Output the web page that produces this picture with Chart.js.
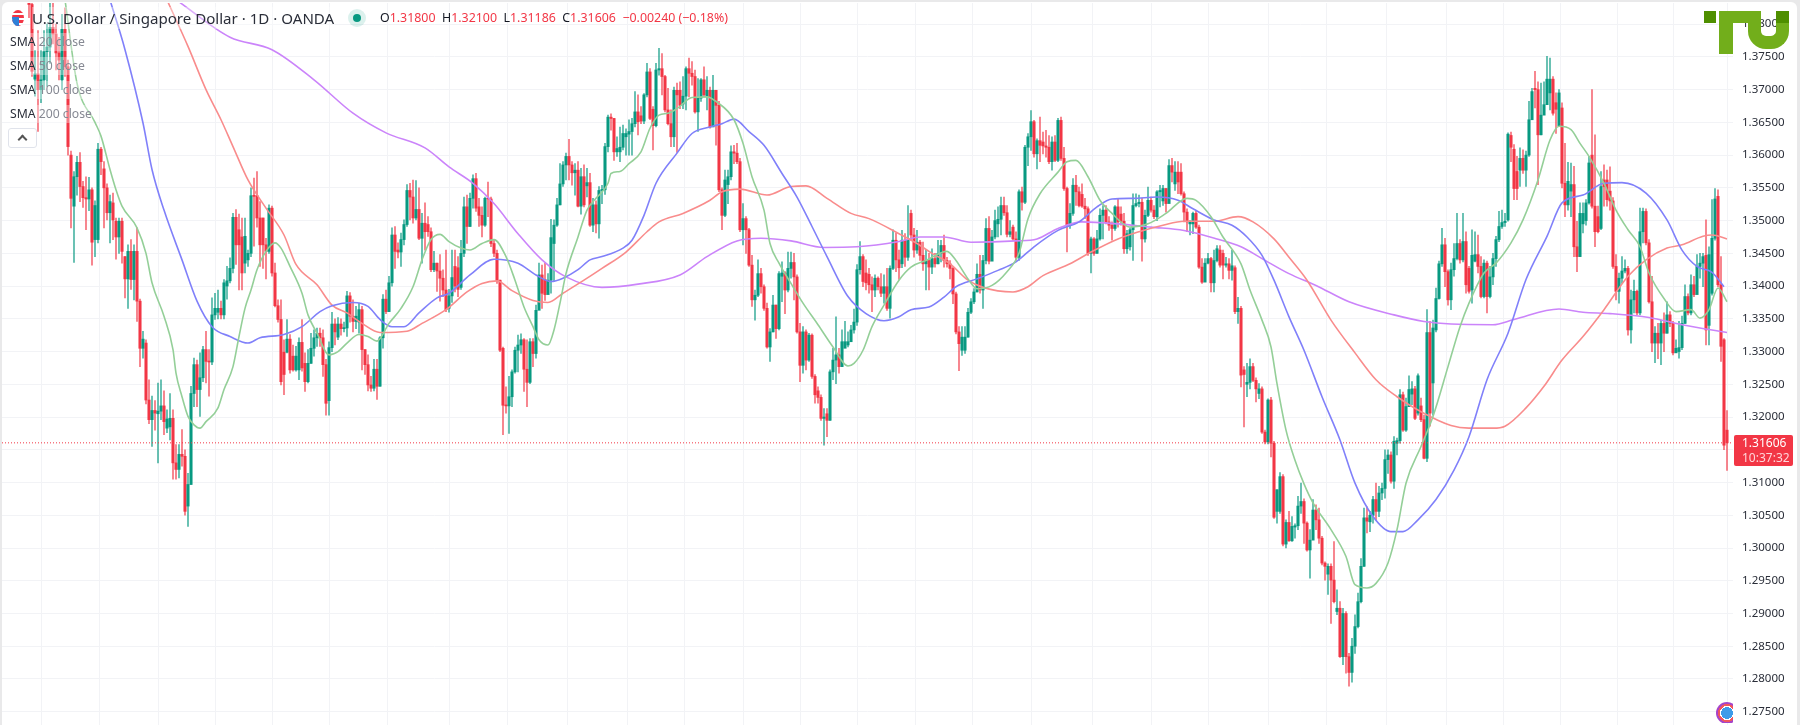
<!DOCTYPE html>
<html>
<head>
<meta charset="utf-8">
<title>USD/SGD</title>
<script src="https://cdn.jsdelivr.net/npm/chart.js@4"></script>
<style>
  html, body { margin: 0; padding: 0; width: 1800px; height: 725px; overflow: hidden; background: #e9e9ea; font-family: "Noto Sans", sans-serif; }
  #panel { position: absolute; left: 2px; top: 2px; width: 1795px; height: 723px; background: #fff; border-radius: 6px 6px 0 0; }
  canvas { position: absolute; left: 0; top: 0; }
  .abs { position: absolute; white-space: nowrap; }
  #title { left: 32px; top: 7px; font-size: 15.1px; line-height: 22px; color: #2a2e39; background: rgba(255,255,255,.35); }
  #ohlc { left: 380px; top: 9px; font-size: 12.4px; line-height: 18px; color: #f23645; }
  #ohlc b { font-weight: 400; color: #131722; }
  .sma { left: 10px; font-size: 12.2px; line-height: 18px; color: #868993; background: rgba(255,255,255,.35); }
  .sma b { font-weight: 400; color: #2a2e39; }
  #flag { left: 12px; top: 10px; width: 12px; height: 16px; border-radius: 50%; overflow: hidden; background: repeating-linear-gradient(#f23645 0 3px, #fff 3px 5px); }
  #flag i { position: absolute; left: 0; top: 7px; width: 7px; height: 9px; background: #2f7fd8; }
  #dotHalo { left: 348px; top: 9px; width: 18px; height: 18px; border-radius: 50%; background: rgba(8,153,129,.14); }
  #dot { left: 353px; top: 14px; width: 8px; height: 8px; border-radius: 50%; background: #089981; }
  #fold { left: 8px; top: 128px; width: 27px; height: 18px; border: 1px solid #e0e3eb; border-radius: 3px; background: #fff; }
  #fold i { position: absolute; left: 10px; top: 7px; width: 5px; height: 5px; border-left: 2px solid #555; border-top: 2px solid #555; transform: rotate(45deg); }
  #tag { left: 1734px; top: 435px; width: 59px; height: 31px; background: #f23645; border-radius: 2px; }
  #tagPrice { left: 1742px; top: 435px; font-size: 12px; line-height: 16px; color: #fff; }
  #tagTime { left: 1742px; top: 450px; font-size: 12px; line-height: 16px; color: #ffd5d9; }
  .tu { position: absolute; background: #72ae1b; }
  #tuU { position: absolute; left: 1748px; top: 11px; width: 15px; height: 25px; border: 13px solid #72ae1b; border-top: 0; border-radius: 0 0 18px 18px; background: transparent; }
  #badge { left: 1716px; top: 702px; width: 17px; height: 21px; overflow: hidden; }
  #badge i { position: absolute; left: 0; top: 0; width: 22px; height: 22px; border-radius: 50%; background: radial-gradient(circle, #3d9be9 0 6px, #fff 6px 7px, #f0565e 7px 9px, #a544c8 9px 11px); }
</style>
</head>
<body>
<div id="panel"></div>
<canvas id="chart" width="1800" height="725"></canvas>
<div class="abs" id="flag"><i></i></div>
<div class="abs" id="title">U.S. Dollar / Singapore Dollar · 1D · OANDA</div>
<div class="abs" id="dotHalo"></div><div class="abs" id="dot"></div>
<div class="abs" id="ohlc"><b>O</b>1.31800 <b>&nbsp;H</b>1.32100 <b>&nbsp;L</b>1.31186 <b>&nbsp;C</b>1.31606 &nbsp;−0.00240 (−0.18%)</div>
<div class="abs sma" style="top:33px"><b>SMA</b> 20 close</div>
<div class="abs sma" style="top:57px"><b>SMA</b> 50 close</div>
<div class="abs sma" style="top:81px"><b>SMA</b> 100 close</div>
<div class="abs sma" style="top:105px"><b>SMA</b> 200 close</div>
<div class="abs" id="fold"><i></i></div>
<div class="abs" id="tag"></div>
<div class="abs" id="tagPrice">1.31606</div>
<div class="abs" id="tagTime">10:37:32</div>
<div class="tu" style="left:1704px;top:11px;width:12px;height:12px;background:#4f8f00"></div>
<div class="tu" style="left:1719px;top:11px;width:29px;height:12px"></div>
<div class="tu" style="left:1719px;top:11px;width:14px;height:43px"></div>
<div id="tuU"></div>
<div class="tu" style="left:1776px;top:11px;width:13px;height:12px;background:#4f8f00"></div>
<div class="abs" id="badge"><i></i></div>
<script>
const opens = [
1.3845,1.3830,1.3716,1.3724,1.3700,1.3715,1.3758,1.3765,1.3795,1.3785,
1.3756,1.3715,1.3792,1.3735,1.3600,1.3522,1.3567,1.3589,1.3552,1.3535,
1.3533,1.3547,1.3471,1.3471,1.3609,1.3579,1.3550,1.3512,1.3527,1.3499,
1.3475,1.3499,1.3445,1.3411,1.3453,1.3410,1.3453,1.3377,1.3305,1.3313,
1.3226,1.3196,1.3210,1.3205,1.3209,1.3217,1.3183,1.3185,1.3198,1.3130,
1.3120,1.3143,1.3140,1.3064,1.3097,1.3236,1.3280,1.3242,1.3260,1.3303,
1.3285,1.3284,1.3356,1.3360,1.3366,1.3356,1.3400,1.3408,1.3427,1.3505,
1.3486,1.3475,1.3435,1.3440,1.3450,1.3538,1.3538,1.3504,1.3504,1.3463,
1.3453,1.3519,1.3420,1.3370,1.3349,1.3299,1.3299,1.3319,1.3293,1.3272,
1.3272,1.3314,1.3282,1.3254,1.3282,1.3305,1.3321,1.3328,1.3321,1.3280,
1.3225,1.3306,1.3342,1.3322,1.3342,1.3335,1.3336,1.3385,1.3354,1.3346,
1.3345,1.3364,1.3303,1.3280,1.3249,1.3244,1.3273,1.3247,1.3321,1.3380,
1.3361,1.3405,1.3478,1.3455,1.3452,1.3471,1.3494,1.3546,1.3536,1.3504,
1.3517,1.3473,1.3496,1.3494,1.3483,1.3425,1.3435,1.3423,1.3412,1.3394,
1.3366,1.3385,1.3430,1.3428,1.3398,1.3450,1.3521,1.3491,1.3534,1.3564,
1.3521,1.3508,1.3493,1.3534,1.3533,1.3465,1.3450,1.3409,1.3305,1.3218,
1.3217,1.3231,1.3269,1.3302,1.3310,1.3318,1.3273,1.3253,1.3315,1.3297,
1.3363,1.3417,1.3410,1.3387,1.3409,1.3465,1.3493,1.3524,1.3556,1.3585,
1.3598,1.3585,1.3573,1.3577,1.3522,1.3567,1.3553,1.3558,1.3493,1.3524,
1.3495,1.3546,1.3547,1.3613,1.3658,1.3656,1.3605,1.3605,1.3612,1.3628,
1.3632,1.3636,1.3648,1.3666,1.3660,1.3652,1.3692,1.3727,1.3670,1.3645,
1.3730,1.3732,1.3720,1.3669,1.3648,1.3628,1.3699,1.3699,1.3678,1.3690,
1.3732,1.3725,1.3720,1.3666,1.3687,1.3715,1.3689,1.3699,1.3643,1.3699,
1.3676,1.3547,1.3508,1.3555,1.3567,1.3605,1.3603,1.3590,1.3486,1.3503,
1.3486,1.3432,1.3379,1.3386,1.3419,1.3399,1.3366,1.3307,1.3330,1.3371,
1.3335,1.3415,1.3420,1.3394,1.3427,1.3436,1.3414,1.3330,1.3279,1.3330,
1.3287,1.3325,1.3262,1.3240,1.3230,1.3198,1.3205,1.3195,1.3269,1.3287,
1.3295,1.3277,1.3305,1.3310,1.3315,1.3333,1.3345,1.3425,1.3445,1.3420,
1.3418,1.3402,1.3394,1.3412,1.3399,1.3389,1.3399,1.3366,1.3427,1.3470,
1.3440,1.3434,1.3470,1.3444,1.3511,1.3478,1.3455,1.3467,1.3447,1.3434,
1.3439,1.3429,1.3442,1.3434,1.3450,1.3462,1.3439,1.3434,1.3427,1.3388,
1.3330,1.3302,1.3302,1.3322,1.3360,1.3376,1.3391,1.3418,1.3394,1.3439,
1.3488,1.3438,1.3475,1.3495,1.3502,1.3523,1.3512,1.3479,1.3490,1.3472,
1.3444,1.3544,1.3528,1.3612,1.3628,1.3651,1.3602,1.3622,1.3620,1.3614,
1.3612,1.3590,1.3620,1.3592,1.3653,1.3595,1.3549,1.3493,1.3511,1.3554,
1.3544,1.3540,1.3522,1.3518,1.3450,1.3472,1.3450,1.3472,1.3508,1.3516,
1.3498,1.3493,1.3488,1.3521,1.3510,1.3499,1.3457,1.3460,1.3486,1.3523,
1.3526,1.3528,1.3472,1.3508,1.3531,1.3516,1.3506,1.3544,1.3530,1.3549,
1.3526,1.3584,1.3556,1.3574,1.3574,1.3541,1.3513,1.3495,1.3495,1.3511,
1.3490,1.3429,1.3406,1.3435,1.3442,1.3405,1.3439,1.3455,1.3450,1.3432,
1.3434,1.3424,1.3428,1.3361,1.3366,1.3272,1.3250,1.3253,1.3277,1.3256,
1.3236,1.3243,1.3177,1.3162,1.3226,1.3160,1.3056,1.3056,1.3109,1.3006,
1.3039,1.3011,1.3032,1.3034,1.3064,1.3071,1.3038,1.2997,1.3012,1.3058,
1.3043,1.3015,1.2977,1.2960,1.2972,1.2951,1.2903,1.2908,1.2834,1.2900,
1.2834,1.2810,1.2850,1.2880,1.2918,1.2972,1.3046,1.3040,1.3050,1.3074,
1.3056,1.3084,1.3091,1.3135,1.3142,1.3102,1.3160,1.3164,1.3234,1.3180,
1.3216,1.3235,1.3243,1.3206,1.3217,1.3196,1.3137,1.3329,1.3252,1.3333,
1.3381,1.3434,1.3463,1.3422,1.3379,1.3425,1.3442,1.3465,1.3440,1.3468,
1.3427,1.3394,1.3438,1.3448,1.3430,1.3384,1.3435,1.3384,1.3414,1.3442,
1.3471,1.3491,1.3497,1.3501,1.3630,1.3609,1.3575,1.3577,1.3595,1.3577,
1.3600,1.3654,1.3702,1.3700,1.3631,1.3661,1.3677,1.3695,1.3716,1.3680,
1.3645,1.3672,1.3557,1.3524,1.3545,1.3555,1.3460,1.3445,1.3495,1.3500,
1.3527,1.3600,1.3522,1.3506,1.3488,1.3562,1.3562,1.3545,1.3530,1.3430,
1.3392,1.3412,1.3423,1.3427,1.3333,1.3379,1.3392,1.3359,1.3483,1.3514,
1.3466,1.3376,1.3313,1.3328,1.3313,1.3343,1.3328,1.3356,1.3343,1.3298,
1.3300,1.3306,1.3343,1.3384,1.3359,1.3402,1.3387,1.3430,1.3435,1.3447,
1.3340,1.3389,1.3473,1.3537,1.3402,1.3318,1.31800
];
const highs = [
1.3860,1.3840,1.3760,1.3790,1.3760,1.3790,1.3800,1.3838,1.3835,1.3800,
1.3780,1.3815,1.3825,1.3745,1.3606,1.3575,1.3598,1.3604,1.3560,1.3567,
1.3566,1.3550,1.3530,1.3618,1.3612,1.3590,1.3556,1.3539,1.3542,1.3504,
1.3504,1.3504,1.3445,1.3463,1.3471,1.3463,1.3489,1.3380,1.3331,1.3318,
1.3257,1.3232,1.3225,1.3252,1.3257,1.3240,1.3211,1.3236,1.3211,1.3158,
1.3158,1.3181,1.3150,1.3114,1.3247,1.3290,1.3287,1.3298,1.3308,1.3331,
1.3303,1.3382,1.3389,1.3394,1.3377,1.3410,1.3430,1.3443,1.3511,1.3517,
1.3510,1.3504,1.3504,1.3455,1.3550,1.3565,1.3575,1.3529,1.3504,1.3473,
1.3524,1.3522,1.3435,1.3379,1.3379,1.3318,1.3349,1.3326,1.3310,1.3308,
1.3321,1.3349,1.3298,1.3303,1.3328,1.3333,1.3336,1.3336,1.3333,1.3288,
1.3315,1.3360,1.3350,1.3352,1.3350,1.3345,1.3392,1.3390,1.3379,1.3369,
1.3374,1.3369,1.3303,1.3295,1.3262,1.3288,1.3288,1.3323,1.3387,1.3394,
1.3415,1.3489,1.3491,1.3466,1.3481,1.3501,1.3555,1.3557,1.3562,1.3561,
1.3550,1.3511,1.3527,1.3506,1.3489,1.3453,1.3435,1.3448,1.3425,1.3455,
1.3395,1.3455,1.3455,1.3445,1.3470,1.3536,1.3539,1.3542,1.3570,1.3572,
1.3534,1.3521,1.3536,1.3559,1.3536,1.3470,1.3455,1.3409,1.3307,1.3246,
1.3262,1.3272,1.3307,1.3325,1.3327,1.3320,1.3318,1.3320,1.3320,1.3371,
1.3435,1.3432,1.3435,1.3419,1.3502,1.3501,1.3534,1.3587,1.3590,1.3603,
1.3624,1.3590,1.3587,1.3590,1.3580,1.3585,1.3580,1.3572,1.3534,1.3530,
1.3552,1.3554,1.3618,1.3661,1.3663,1.3656,1.3628,1.3643,1.3646,1.3640,
1.3654,1.3656,1.3697,1.3692,1.3674,1.3694,1.3740,1.3732,1.3674,1.3740,
1.3763,1.3755,1.3722,1.3702,1.3669,1.3704,1.3710,1.3712,1.3720,1.3735,
1.3748,1.3743,1.3730,1.3717,1.3717,1.3735,1.3720,1.3704,1.3722,1.3692,
1.3682,1.3550,1.3577,1.3577,1.3614,1.3615,1.3618,1.3595,1.3526,1.3506,
1.3488,1.3447,1.3394,1.3440,1.3427,1.3402,1.3374,1.3335,1.3386,1.3371,
1.3422,1.3437,1.3422,1.3452,1.3452,1.3450,1.3417,1.3343,1.3338,1.3333,
1.3328,1.3327,1.3265,1.3246,1.3234,1.3213,1.3213,1.3272,1.3305,1.3353,
1.3305,1.3333,1.3346,1.3330,1.3340,1.3365,1.3433,1.3468,1.3448,1.3440,
1.3427,1.3414,1.3417,1.3414,1.3419,1.3417,1.3427,1.3431,1.3486,1.3481,
1.3455,1.3485,1.3480,1.3523,1.3516,1.3488,1.3485,1.3470,1.3467,1.3455,
1.3450,1.3457,1.3450,1.3470,1.3470,1.3478,1.3444,1.3439,1.3429,1.3391,
1.3338,1.3338,1.3338,1.3366,1.3381,1.3396,1.3434,1.3447,1.3447,1.3503,
1.3506,1.3485,1.3516,1.3521,1.3536,1.3536,1.3523,1.3500,1.3493,1.3483,
1.3547,1.3551,1.3615,1.3633,1.3668,1.3653,1.3625,1.3658,1.3635,1.3638,
1.3630,1.3628,1.3630,1.3656,1.3658,1.3612,1.3551,1.3526,1.3564,1.3569,
1.3551,1.3556,1.3534,1.3521,1.3475,1.3474,1.3485,1.3518,1.3523,1.3523,
1.3506,1.3498,1.3523,1.3534,1.3521,1.3511,1.3485,1.3488,1.3541,1.3541,
1.3539,1.3534,1.3516,1.3551,1.3536,1.3523,1.3546,1.3554,1.3554,1.3549,
1.3593,1.3595,1.3590,1.3590,1.3587,1.3544,1.3518,1.3500,1.3513,1.3514,
1.3493,1.3442,1.3442,1.3450,1.3444,1.3455,1.3462,1.3462,1.3455,1.3444,
1.3442,1.3455,1.3431,1.3383,1.3369,1.3277,1.3282,1.3289,1.3282,1.3260,
1.3251,1.3246,1.3180,1.3228,1.3230,1.3163,1.3089,1.3115,1.3112,1.3043,
1.3056,1.3048,1.3037,1.3079,1.3099,1.3075,1.3040,1.3028,1.3074,1.3066,
1.3061,1.3018,1.2979,1.2976,1.2976,1.3010,1.2936,1.2918,1.2908,1.2903,
1.2839,1.2862,1.2898,1.2931,1.2984,1.3061,1.3063,1.3056,1.3079,1.3099,
1.3094,1.3099,1.3150,1.3150,1.3147,1.3170,1.3168,1.3242,1.3238,1.3229,
1.3263,1.3254,1.3247,1.3266,1.3229,1.3203,1.3364,1.3346,1.3348,1.3397,
1.3438,1.3488,1.3473,1.3425,1.3435,1.3465,1.3511,1.3471,1.3511,1.3483,
1.3430,1.3486,1.3483,1.3478,1.3445,1.3440,1.3438,1.3430,1.3450,1.3476,
1.3514,1.3516,1.3511,1.3634,1.3635,1.3616,1.3598,1.3611,1.3608,1.3606,
1.3682,1.3702,1.3728,1.3712,1.3710,1.3712,1.3751,1.3748,1.3720,1.3695,
1.3700,1.3680,1.3618,1.3589,1.3588,1.3583,1.3499,1.3527,1.3527,1.3532,
1.3598,1.3700,1.3631,1.3522,1.3575,1.3585,1.3577,1.3582,1.3535,1.3448,
1.3420,1.3445,1.3440,1.3430,1.3394,1.3409,1.3394,1.3519,1.3519,1.3518,
1.3471,1.3415,1.3338,1.3343,1.3348,1.3359,1.3376,1.3361,1.3346,1.3318,
1.3346,1.3354,1.3402,1.3388,1.3417,1.3415,1.3448,1.3450,1.3450,1.3501,
1.3460,1.3532,1.3549,1.3547,1.3445,1.3320,1.32100
];
const lows = [
1.3810,1.3720,1.3690,1.3636,1.3680,1.3700,1.3705,1.3740,1.3770,1.3730,
1.3715,1.3700,1.3720,1.3600,1.3489,1.3436,1.3539,1.3529,1.3520,1.3486,
1.3515,1.3432,1.3445,1.3466,1.3570,1.3489,1.3501,1.3466,1.3471,1.3441,
1.3450,1.3435,1.3382,1.3366,1.3395,1.3379,1.3346,1.3277,1.3290,1.3220,
1.3190,1.3155,1.3180,1.3130,1.3196,1.3173,1.3176,1.3165,1.3105,1.3105,
1.3107,1.3125,1.3050,1.3033,1.3097,1.3216,1.3216,1.3201,1.3254,1.3252,
1.3232,1.3280,1.3349,1.3350,1.3350,1.3350,1.3380,1.3405,1.3420,1.3433,
1.3394,1.3394,1.3420,1.3430,1.3445,1.3461,1.3490,1.3430,1.3427,1.3411,
1.3450,1.3415,1.3368,1.3345,1.3249,1.3234,1.3298,1.3267,1.3270,1.3270,
1.3257,1.3270,1.3239,1.3252,1.3282,1.3293,1.3308,1.3308,1.3262,1.3203,
1.3203,1.3300,1.3310,1.3318,1.3325,1.3330,1.3323,1.3345,1.3330,1.3335,
1.3328,1.3272,1.3265,1.3240,1.3239,1.3240,1.3227,1.3247,1.3305,1.3358,
1.3361,1.3400,1.3427,1.3443,1.3430,1.3463,1.3491,1.3501,1.3496,1.3501,
1.3471,1.3435,1.3455,1.3476,1.3422,1.3422,1.3392,1.3377,1.3384,1.3361,
1.3360,1.3375,1.3391,1.3384,1.3395,1.3445,1.3465,1.3491,1.3519,1.3514,
1.3491,1.3475,1.3491,1.3506,1.3460,1.3445,1.3404,1.3300,1.3173,1.3206,
1.3175,1.3216,1.3267,1.3269,1.3297,1.3239,1.3216,1.3251,1.3277,1.3290,
1.3369,1.3366,1.3378,1.3389,1.3389,1.3407,1.3491,1.3524,1.3552,1.3562,
1.3562,1.3554,1.3539,1.3521,1.3510,1.3521,1.3536,1.3491,1.3483,1.3481,
1.3473,1.3526,1.3540,1.3605,1.3638,1.3592,1.3598,1.3590,1.3608,1.3600,
1.3600,1.3600,1.3643,1.3631,1.3648,1.3648,1.3689,1.3654,1.3608,1.3643,
1.3722,1.3692,1.3666,1.3646,1.3613,1.3613,1.3604,1.3671,1.3671,1.3669,
1.3689,1.3707,1.3664,1.3636,1.3682,1.3689,1.3669,1.3641,1.3646,1.3615,
1.3544,1.3486,1.3506,1.3526,1.3562,1.3587,1.3587,1.3483,1.3463,1.3450,
1.3430,1.3369,1.3348,1.3384,1.3389,1.3363,1.3305,1.3285,1.3330,1.3320,
1.3333,1.3376,1.3358,1.3391,1.3412,1.3379,1.3328,1.3254,1.3267,1.3272,
1.3285,1.3259,1.3221,1.3221,1.3195,1.3157,1.3170,1.3195,1.3257,1.3251,
1.3267,1.3277,1.3307,1.3307,1.3315,1.3328,1.3340,1.3418,1.3399,1.3394,
1.3389,1.3361,1.3384,1.3394,1.3384,1.3374,1.3363,1.3351,1.3425,1.3422,
1.3410,1.3428,1.3430,1.3439,1.3470,1.3444,1.3450,1.3439,1.3424,1.3394,
1.3394,1.3419,1.3429,1.3434,1.3437,1.3429,1.3429,1.3411,1.3373,1.3327,
1.3271,1.3294,1.3297,1.3322,1.3358,1.3373,1.3391,1.3389,1.3366,1.3434,
1.3434,1.3452,1.3472,1.3475,1.3478,1.3508,1.3475,1.3475,1.3470,1.3439,
1.3439,1.3516,1.3526,1.3584,1.3607,1.3597,1.3579,1.3590,1.3602,1.3597,
1.3587,1.3577,1.3590,1.3590,1.3592,1.3546,1.3452,1.3488,1.3508,1.3523,
1.3521,1.3520,1.3503,1.3447,1.3420,1.3447,1.3450,1.3470,1.3472,1.3495,
1.3485,1.3470,1.3485,1.3490,1.3493,1.3450,1.3450,1.3455,1.3439,1.3521,
1.3521,1.3438,1.3467,1.3506,1.3513,1.3503,1.3500,1.3521,1.3523,1.3513,
1.3546,1.3559,1.3546,1.3541,1.3539,1.3498,1.3483,1.3478,1.3480,1.3488,
1.3427,1.3404,1.3414,1.3434,1.3391,1.3391,1.3437,1.3429,1.3411,1.3429,
1.3411,1.3409,1.3358,1.3343,1.3246,1.3185,1.3231,1.3243,1.3254,1.3223,
1.3228,1.3175,1.3159,1.3159,1.3139,1.3045,1.3038,1.3053,1.3003,1.3000,
1.3010,1.3010,1.3015,1.3028,1.3053,1.3007,1.2995,1.2954,1.3025,1.3028,
1.3007,1.2974,1.2951,1.2929,1.2885,1.2916,1.2898,1.2833,1.2822,1.2809,
1.2789,1.2795,1.2839,1.2878,1.2916,1.2972,1.3023,1.3025,1.3038,1.3043,
1.3048,1.3074,1.3076,1.3114,1.3099,1.3091,1.3142,1.3160,1.3178,1.3178,
1.3216,1.3219,1.3196,1.3203,1.3193,1.3136,1.3132,1.3186,1.3203,1.3330,
1.3380,1.3430,1.3399,1.3371,1.3364,1.3415,1.3440,1.3435,1.3437,1.3389,
1.3389,1.3374,1.3437,1.3420,1.3382,1.3382,1.3359,1.3382,1.3402,1.3430,
1.3468,1.3488,1.3491,1.3499,1.3590,1.3532,1.3532,1.3552,1.3572,1.3552,
1.3598,1.3654,1.3672,1.3555,1.3631,1.3667,1.3679,1.3669,1.3661,1.3633,
1.3649,1.3550,1.3506,1.3516,1.3506,1.3445,1.3422,1.3445,1.3481,1.3493,
1.3525,1.3519,1.3460,1.3481,1.3486,1.3522,1.3522,1.3516,1.3427,1.3379,
1.3374,1.3404,1.3420,1.3325,1.3313,1.3359,1.3356,1.3356,1.3466,1.3463,
1.3374,1.3300,1.3283,1.3289,1.3280,1.3300,1.3328,1.3338,1.3295,1.3303,
1.3290,1.3303,1.3343,1.3356,1.3356,1.3384,1.3394,1.3412,1.3399,1.3310,
1.3310,1.3386,1.3470,1.3399,1.3285,1.3150,1.31186
];
const closes = [
1.3830,1.3728,1.3724,1.3700,1.3715,1.3758,1.3765,1.3795,1.3785,1.3756,
1.3745,1.3792,1.3735,1.3613,1.3534,1.3567,1.3589,1.3552,1.3535,1.3533,
1.3547,1.3467,1.3523,1.3609,1.3590,1.3550,1.3512,1.3529,1.3501,1.3475,
1.3499,1.3453,1.3411,1.3453,1.3410,1.3453,1.3377,1.3305,1.3319,1.3226,
1.3196,1.3210,1.3206,1.3209,1.3217,1.3193,1.3197,1.3198,1.3130,1.3120,
1.3143,1.3140,1.3056,1.3097,1.3236,1.3280,1.3242,1.3260,1.3303,1.3285,
1.3284,1.3356,1.3366,1.3366,1.3356,1.3405,1.3408,1.3427,1.3505,1.3463,
1.3463,1.3420,1.3476,1.3450,1.3538,1.3537,1.3504,1.3463,1.3463,1.3453,
1.3519,1.3420,1.3370,1.3349,1.3254,1.3265,1.3319,1.3272,1.3272,1.3293,
1.3314,1.3275,1.3254,1.3282,1.3305,1.3321,1.3328,1.3321,1.3280,1.3221,
1.3306,1.3342,1.3330,1.3342,1.3335,1.3336,1.3385,1.3354,1.3346,1.3354,
1.3364,1.3303,1.3280,1.3249,1.3244,1.3273,1.3247,1.3321,1.3380,1.3361,
1.3405,1.3478,1.3453,1.3452,1.3471,1.3494,1.3546,1.3536,1.3504,1.3517,
1.3473,1.3496,1.3483,1.3483,1.3425,1.3435,1.3423,1.3412,1.3394,1.3364,
1.3385,1.3413,1.3400,1.3395,1.3450,1.3521,1.3491,1.3534,1.3564,1.3519,
1.3508,1.3493,1.3534,1.3533,1.3465,1.3450,1.3409,1.3302,1.3218,1.3217,
1.3231,1.3269,1.3302,1.3310,1.3318,1.3273,1.3253,1.3315,1.3297,1.3363,
1.3417,1.3389,1.3387,1.3409,1.3474,1.3493,1.3524,1.3556,1.3585,1.3598,
1.3585,1.3573,1.3577,1.3522,1.3567,1.3524,1.3558,1.3493,1.3524,1.3495,
1.3546,1.3547,1.3613,1.3658,1.3656,1.3605,1.3610,1.3612,1.3633,1.3633,
1.3636,1.3648,1.3666,1.3651,1.3652,1.3692,1.3727,1.3656,1.3645,1.3730,
1.3732,1.3720,1.3669,1.3648,1.3628,1.3699,1.3692,1.3676,1.3690,1.3732,
1.3725,1.3720,1.3666,1.3687,1.3715,1.3692,1.3699,1.3643,1.3699,1.3676,
1.3547,1.3508,1.3562,1.3567,1.3605,1.3603,1.3590,1.3486,1.3503,1.3486,
1.3432,1.3379,1.3386,1.3419,1.3399,1.3366,1.3307,1.3330,1.3371,1.3335,
1.3419,1.3420,1.3394,1.3427,1.3436,1.3414,1.3330,1.3279,1.3330,1.3287,
1.3325,1.3262,1.3234,1.3230,1.3198,1.3200,1.3195,1.3269,1.3287,1.3295,
1.3277,1.3315,1.3315,1.3315,1.3333,1.3345,1.3425,1.3445,1.3407,1.3405,
1.3402,1.3394,1.3412,1.3399,1.3389,1.3399,1.3366,1.3427,1.3470,1.3440,
1.3428,1.3470,1.3444,1.3470,1.3478,1.3455,1.3467,1.3447,1.3434,1.3439,
1.3429,1.3442,1.3434,1.3450,1.3462,1.3439,1.3434,1.3427,1.3388,1.3330,
1.3312,1.3322,1.3322,1.3360,1.3376,1.3391,1.3418,1.3394,1.3439,1.3488,
1.3438,1.3475,1.3500,1.3502,1.3523,1.3512,1.3479,1.3483,1.3472,1.3444,
1.3544,1.3528,1.3612,1.3628,1.3651,1.3602,1.3622,1.3615,1.3614,1.3612,
1.3590,1.3620,1.3592,1.3653,1.3595,1.3549,1.3493,1.3511,1.3554,1.3544,
1.3523,1.3522,1.3518,1.3450,1.3472,1.3450,1.3472,1.3508,1.3516,1.3498,
1.3493,1.3488,1.3521,1.3498,1.3499,1.3457,1.3480,1.3486,1.3523,1.3526,
1.3528,1.3472,1.3508,1.3531,1.3516,1.3506,1.3544,1.3546,1.3549,1.3526,
1.3584,1.3574,1.3574,1.3559,1.3541,1.3513,1.3498,1.3498,1.3511,1.3490,
1.3429,1.3406,1.3435,1.3442,1.3405,1.3439,1.3457,1.3432,1.3432,1.3434,
1.3424,1.3431,1.3361,1.3366,1.3264,1.3265,1.3253,1.3277,1.3256,1.3243,
1.3243,1.3177,1.3162,1.3226,1.3160,1.3047,1.3089,1.3109,1.3006,1.3039,
1.3011,1.3033,1.3034,1.3064,1.3071,1.3038,1.2997,1.3012,1.3058,1.3043,
1.3015,1.2977,1.2972,1.2972,1.2951,1.2918,1.2908,1.2834,1.2900,1.2834,
1.2810,1.2850,1.2880,1.2918,1.2972,1.3046,1.3041,1.3050,1.3074,1.3056,
1.3084,1.3091,1.3135,1.3142,1.3102,1.3163,1.3164,1.3234,1.3180,1.3216,
1.3242,1.3243,1.3198,1.3263,1.3196,1.3137,1.3329,1.3206,1.3336,1.3381,
1.3434,1.3463,1.3422,1.3379,1.3425,1.3442,1.3465,1.3440,1.3468,1.3402,
1.3392,1.3447,1.3448,1.3430,1.3384,1.3435,1.3384,1.3414,1.3442,1.3471,
1.3491,1.3497,1.3499,1.3632,1.3612,1.3549,1.3549,1.3595,1.3577,1.3600,
1.3654,1.3697,1.3700,1.3631,1.3661,1.3677,1.3716,1.3716,1.3664,1.3670,
1.3695,1.3557,1.3524,1.3560,1.3555,1.3460,1.3445,1.3511,1.3511,1.3527,
1.3588,1.3522,1.3483,1.3483,1.3552,1.3552,1.3532,1.3530,1.3430,1.3392,
1.3412,1.3423,1.3427,1.3333,1.3379,1.3392,1.3359,1.3483,1.3514,1.3466,
1.3376,1.3313,1.3328,1.3313,1.3343,1.3328,1.3356,1.3343,1.3298,1.3305,
1.3306,1.3343,1.3384,1.3359,1.3402,1.3387,1.3430,1.3435,1.3445,1.3333,
1.3448,1.3473,1.3533,1.3402,1.3308,1.3157,1.31606
];

const priceTicks = [1.275,1.28,1.285,1.29,1.295,1.30,1.305,1.31,1.315,1.32,1.325,1.33,1.335,1.34,1.345,1.35,1.355,1.36,1.365,1.37,1.375,1.38];
const monthTicks = [-6,14,33,53,71,91,109,130,150,169,190,209,228,248,266,286,305,324,344,365,383,403,423,442,463,482,501,520,539,557];
const lastClose = 1.31606;

const sma20Bars = [12,16,22,24,27,29,31,36,39,41,
  45,48,49,51,53,55,57,59,63,65,
  68,70,72,74,76,79,82,84,87,91,
  93,96,100,103,106,110,113,116,120,124,
  128,131,134,137,140,144,147,151,155,159,
  162,165,168,170,173,175,177,179,183,186,
  189,193,194,197,200,204,207,210,213,216,
  221,226,229,235,238,241,245,247,250,254,
  258,263,268,273,275,278,281,285,290,294,
  299,306,309,313,316,321,326,330,333,337,
  343,346,349,353,357,361,367,373,379,386,
  389,394,398,404,407,411,414,416,419,422,
  425,428,434,439,442,446,449,453,456,459,
  464,468,473,477,480,485,489,494,498,503,
  507,510,514,517,520,525,529,533,537,540,
  545,549,554,557,560,563,566];
const sma20 = [1.3837,1.3710,1.3650,1.3629,1.3578,1.3547,1.3522,1.3489,1.3450,1.3405,
  1.3354,1.3303,1.3267,1.3231,1.3201,1.3188,1.3183,1.3193,1.3214,1.3242,
  1.3277,1.3323,1.3366,1.3394,1.3425,1.3453,1.3466,1.3458,1.3430,1.3389,
  1.3356,1.3328,1.3295,1.3300,1.3313,1.3326,1.3323,1.3316,1.3343,1.3366,
  1.3399,1.3440,1.3471,1.3479,1.3468,1.3458,1.3455,1.3465,1.3471,1.3445,
  1.3409,1.3368,1.3338,1.3318,1.3310,1.3333,1.3374,1.3419,1.3475,1.3516,
  1.3534,1.3557,1.3572,1.3575,1.3587,1.3605,1.3641,1.3661,1.3664,1.3671,
  1.3688,1.3689,1.3682,1.3654,1.3618,1.3567,1.3516,1.3465,1.3435,1.3404,
  1.3374,1.3341,1.3307,1.3278,1.3282,1.3302,1.3338,1.3371,1.3409,1.3429,
  1.3439,1.3453,1.3439,1.3411,1.3396,1.3401,1.3422,1.3450,1.3503,1.3541,
  1.3574,1.3590,1.3592,1.3567,1.3531,1.3511,1.3490,1.3495,1.3511,1.3534,
  1.3531,1.3506,1.3475,1.3434,1.3394,1.3348,1.3307,1.3251,1.3180,1.3134,
  1.3098,1.3069,1.3028,1.2987,1.2944,1.2939,1.2946,1.2977,1.3028,1.3099,
  1.3155,1.3201,1.3277,1.3338,1.3374,1.3420,1.3435,1.3466,1.3501,1.3562,
  1.3623,1.3644,1.3639,1.3618,1.3598,1.3557,1.3516,1.3486,1.3460,1.3420,
  1.3381,1.3361,1.3364,1.3351,1.3364,1.3397,1.3376];

const sma50Bars = [27,32,38,41,45,51,56,61,67,73,
  77,85,91,97,101,108,113,117,121,125,
  130,136,140,147,155,163,169,174,178,183,
  187,191,198,201,205,209,216,221,227,231,
  235,240,245,251,256,261,266,273,279,285,
  290,294,300,305,309,316,323,329,335,343,
  350,356,361,368,376,383,388,395,401,406,
  411,415,420,425,431,437,442,448,454,458,
  463,469,475,480,486,493,499,506,511,518,
  525,531,539,546,551,556,561,565];
const sma50 = [1.3837,1.3761,1.3649,1.3578,1.3516,1.3440,1.3377,1.3338,1.3323,1.3313,
  1.3321,1.3326,1.3338,1.3361,1.3370,1.3375,1.3369,1.3349,1.3338,1.3338,
  1.3359,1.3382,1.3389,1.3417,1.3441,1.3435,1.3417,1.3407,1.3412,1.3425,
  1.3440,1.3445,1.3458,1.3470,1.3508,1.3557,1.3603,1.3633,1.3643,1.3648,
  1.3655,1.3636,1.3615,1.3572,1.3536,1.3491,1.3445,1.3384,1.3358,1.3347,
  1.3353,1.3364,1.3368,1.3383,1.3399,1.3411,1.3424,1.3437,1.3460,1.3485,
  1.3498,1.3521,1.3533,1.3534,1.3536,1.3531,1.3518,1.3501,1.3493,1.3475,
  1.3447,1.3409,1.3353,1.3302,1.3231,1.3165,1.3099,1.3048,1.3025,1.3025,
  1.3043,1.3074,1.3119,1.3170,1.3257,1.3328,1.3410,1.3476,1.3527,1.3539,
  1.3557,1.3558,1.3542,1.3501,1.3455,1.3430,1.3421,1.3399];

const sma100Bars = [46,53,59,64,68,73,79,85,89,96,
  101,106,111,117,126,131,139,146,151,156,
  161,168,173,178,185,191,199,206,210,218,
  227,231,237,246,254,259,266,274,280,290,
  296,301,307,313,318,328,333,338,347,354,
  363,370,378,385,395,403,408,415,420,426,
  434,442,449,456,464,474,480,488,492,499,
  505,511,518,525,533,539,546,551,558,561,
  566];
const sma100 = [1.3837,1.3766,1.3700,1.3654,1.3613,1.3562,1.3519,1.3478,1.3433,1.3402,
  1.3371,1.3359,1.3343,1.3329,1.3331,1.3343,1.3364,1.3391,1.3404,1.3408,
  1.3393,1.3378,1.3375,1.3389,1.3409,1.3427,1.3452,1.3483,1.3498,1.3511,
  1.3531,1.3544,1.3548,1.3539,1.3552,1.3553,1.3534,1.3511,1.3503,1.3480,
  1.3465,1.3450,1.3434,1.3409,1.3398,1.3391,1.3399,1.3416,1.3434,1.3452,
  1.3472,1.3483,1.3493,1.3499,1.3499,1.3506,1.3498,1.3472,1.3444,1.3409,
  1.3348,1.3298,1.3257,1.3231,1.3208,1.3187,1.3183,1.3183,1.3186,1.3214,
  1.3247,1.3287,1.3323,1.3364,1.3415,1.3440,1.3458,1.3463,1.3476,1.3478,
  1.3472];

const sma200Bars = [50,67,81,95,108,119,132,140,148,155,
  163,171,179,191,203,217,226,236,244,254,
  265,276,290,297,305,314,329,336,343,351,
  363,374,385,396,404,411,420,429,440,455,
  465,474,488,495,510,518,527,540,551,566];
const sma200 = [1.3834,1.3780,1.3761,1.3715,1.3664,1.3634,1.3611,1.3582,1.3557,1.3526,
  1.3480,1.3440,1.3414,1.3398,1.3403,1.3417,1.3445,1.3469,1.3473,1.3469,
  1.3459,1.3460,1.3468,1.3475,1.3475,1.3467,1.3469,1.3472,1.3488,1.3498,
  1.3495,1.3490,1.3485,1.3472,1.3460,1.3442,1.3419,1.3401,1.3376,1.3356,
  1.3346,1.3342,1.3341,1.3349,1.3365,1.3360,1.3358,1.3352,1.3341,1.3329];

const upColor = "#089981"
const downColor = "#f23645"
const xMin = -9
const xMax = 568

function candleColors(alpha) {
  return closes.map((close, i) => {
    const base = close >= opens[i] ? "8, 153, 129" : "242, 54, 69"
    return `rgba(${base}, ${alpha})`
  })
}

function smaDataset(bars, values, color) {
  return {
    type: "line",
    data: bars.map((bar, i) => ({ x: bar, y: values[i] })),
    borderColor: color,
    borderWidth: 1.6,
    pointRadius: 0,
    cubicInterpolationMode: "monotone",
    order: 1
  }
}

new Chart(document.getElementById("chart").getContext("2d"), {
  type: "bar",
  data: {
    datasets: [
      {
        data: lows.map((low, i) => ({ x: i, y: [low, highs[i]] })),
        backgroundColor: candleColors(0.72),
        barThickness: 1,
        grouped: false,
        order: 4
      },
      {
        data: opens.map((open, i) => ({ x: i, y: [open, closes[i]] })),
        backgroundColor: candleColors(1),
        barThickness: 2.4,
        minBarLength: 1,
        grouped: false,
        order: 3
      },
      {
        type: "line",
        data: [{ x: xMin, y: lastClose }, { x: xMax, y: lastClose }],
        borderColor: downColor,
        borderWidth: 1,
        borderDash: [1, 2],
        pointRadius: 0,
        order: 2
      },
      smaDataset(sma20Bars, sma20, "#94cf98"),
      smaDataset(sma50Bars, sma50, "#8080fa"),
      smaDataset(sma100Bars, sma100, "#f98c8c"),
      smaDataset(sma200Bars, sma200, "#cb84fa")
    ]
  },
  options: {
    responsive: false,
    animation: false,
    layout: { padding: { left: 2, top: 3, right: 0, bottom: 0 } },
    plugins: { legend: { display: false }, tooltip: { enabled: false } },
    scales: {
      x: {
        type: "linear",
        min: xMin,
        max: xMax,
        offset: false,
        afterBuildTicks: scale => { scale.ticks = monthTicks.map(value => ({ value })) },
        afterFit: scale => {
          scale.height = 0
          scale.paddingLeft = 0
          scale.paddingRight = 0
        },
        ticks: { display: false },
        border: { display: false },
        grid: { color: "#f2f3f6", drawTicks: false }
      },
      y: {
        position: "right",
        min: 1.27297,
        max: 1.38323,
        afterFit: scale => {
          scale.width = 67
          scale.paddingTop = 0
          scale.paddingBottom = 0
        },
        afterBuildTicks: scale => { scale.ticks = priceTicks.map(value => ({ value })) },
        ticks: {
          padding: 9,
          color: "#2a2e39",
          font: { family: "'Noto Sans', sans-serif", size: 11.5 },
          callback: value => value.toFixed(5)
        },
        border: { display: false },
        grid: { color: "#f2f3f6", drawTicks: false }
      }
    }
  }
})
</script>
</body>
</html>
